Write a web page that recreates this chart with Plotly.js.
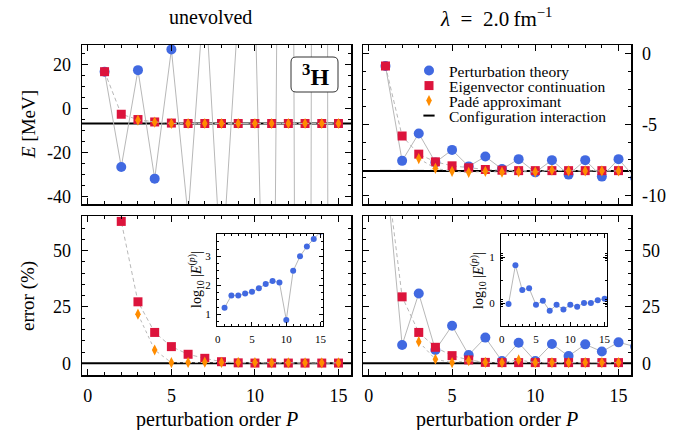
<!DOCTYPE html>
<html><head><meta charset="utf-8">
<script src="https://cdn.plot.ly/plotly-3.0.1.min.js"></script>
<style>html,body{margin:0;padding:0;background:#fff}#chart{width:678px;height:430px}</style>
</head><body><div id="chart"></div>
<script>
// ---------------- data ----------------
const orders = [1,2,3,4,5,6,7,8,9,10,11,12,13,14,15];
const ordersExt = [1,2,3,4,5,6,7,8,9,10,11,12,13,14,15,16];
const padeOrders = [3,4,5,6,7,8,9,10,11,12,13,14,15];

// energies (MeV), unevolved
const ptUnev = [16.7,-26.5,17.4,-31.8,26.8,-49,56,-76,44,50,-252,681,-1314,2234,-4076];
const ecUnev = [16.7,-2.6,-5.0,-6.1,-6.6,-6.8,-6.8,-6.8,-6.8,-6.8,-6.8,-6.8,-6.8,-6.8,-6.8];
const padeUnev = [-5.3,-6.2,-6.8,-6.8,-6.8,-6.8,-6.8,-6.8,-6.8,-6.8,-6.8,-6.8,-6.8];
const ciUnev = -6.8;

// energies (MeV), lambda = 2.0 fm^-1
const ptEvol = [-0.88,-7.56,-5.63,-7.67,-6.79,-7.95,-7.26,-8.14,-7.44,-8.37,-7.51,-8.53,-7.51,-8.67,-7.44,-8.77];
const ecEvol = [-0.88,-5.81,-7.09,-7.63,-7.91,-8.05,-8.17,-8.22,-8.25,-8.25,-8.25,-8.25,-8.25,-8.25,-8.25];
const padeEvol = [-7.40,-8.09,-8.30,-8.37,-8.30,-8.36,-8.32,-8.34,-8.22,-8.27,-8.27,-8.27,-8.27];
const ciEvol = -8.27;

// errors (%)
const ecErrUnev = [345,63.0,27.3,13.7,7.4,4.0,2.2,0.7,0.2,0.1,0.1,0.1,0.1,0.1,0.1];
const padeErrUnev = [21.8,5.9,0.3,0.4,0.5,0.4,0.4,0.3,0.2,0.2,0.2,0.2,0.2];
const ptErrEvol = [89,8.1,31.0,5.9,16.7,3.7,11.4,1.0,9.1,1.0,8.6,3.2,8.4,5.2,9.3,7.4];
const ecErrEvol = [89,29.5,13.7,7.1,3.4,1.5,0.4,0.3,0.3,0.3,0.3,0.3,0.3,0.3,0.3];
const padeErrEvol = [9.6,1.8,0.3,1.2,0.4,0.3,1.5,0.3,0.3,0.3,0.3,0.3,0.3];
const errRef = 0;

// insets: log10 |E^(p)|
const logUnev = [1.23,1.65,1.65,1.72,1.78,1.90,2.05,2.15,2.10,0.81,2.50,3.00,3.34,3.60,3.85];
const logEvol = [-0.02,0.82,0.28,0.32,-0.04,0.05,-0.17,-0.04,-0.14,-0.04,-0.08,0.00,0.00,0.06,0.09];

// tick labels
const xTicks = [0,5,10,15], xTickText = ['0','5','10','15'];
const yTLTicks = [-40,-20,0,20], yTLText = ['-40','-20','0','20'];
const yTRTicks = [-10,-5,0], yTRText = ['-10','-5','0'];
const yErrTicks = [0,25,50], yErrText = ['0','25','50'];
const yInL = [1,2,3], yInLText = ['1','2','3'];
const yInR = [0,1], yInRText = ['0','1'];
const yInRMinor = [-0.5,-0.08,-0.04,0.04,0.08,0.5,0.92,0.96,1.04,1.08,1.5];

// ---------------- styling ----------------
const FONT = '"Liberation Serif", "DejaVu Serif", serif';
const W = 678, H = 430;
const fx = v => v / W, fy = v => 1 - v / H;
const GREY = '#b8b8b8', BLUE = '#4169e1', RED = '#dc143c', ORANGE = '#ff8c00';

function ax(extra, small) {
  return Object.assign({
    showline: true, mirror: 'allticks', linecolor: '#000', linewidth: small ? 1 : 1.5,
    ticks: 'inside', ticklen: small ? 4 : 6, tickwidth: 1, tickcolor: '#000',
    showgrid: false, zeroline: false, ticklabelstandoff: small ? 3 : 6,
    tickfont: {family: FONT, size: small ? 11 : 18, color: '#000'}
  }, extra);
}
function minor(d, small) { return {ticks: 'inside', ticklen: small ? 2 : 3, dtick: d, tick0: 0, tickcolor: '#000', tickwidth: 1}; }

function leg(yPx) {
  return {x: fx(409), y: fy(yPx), xanchor: 'left', yanchor: 'middle', bgcolor: 'rgba(0,0,0,0)',
          font: {family: FONT, size: 15.5, color: '#000'}, tracegroupgap: 0};
}

const mainX = [-0.35, 15.75];
const layout = {
  width: W, height: H, margin: {l: 0, r: 0, t: 0, b: 0},
  paper_bgcolor: '#fff', plot_bgcolor: '#fff',
  font: {family: FONT, color: '#000'},
  showlegend: true,
  legend: leg(71), legend2: leg(86), legend3: leg(101), legend4: leg(116),
  xaxis: ax({domain: [fx(82), fx(351)], anchor: 'y', range: mainX, tickvals: xTicks, ticktext: xTickText, showticklabels: false, minor: minor(1)}),
  yaxis: ax({domain: [fy(204), fy(45)], anchor: 'x', range: [-43.3, 28.8], tickvals: yTLTicks, ticktext: yTLText, minor: minor(5)}),
  xaxis2: ax({domain: [fx(363), fx(631)], anchor: 'y2', range: mainX, tickvals: xTicks, ticktext: xTickText, showticklabels: false, minor: minor(1)}),
  yaxis2: ax({domain: [fy(204), fy(45)], anchor: 'x2', side: 'right', range: [-10.6, 0.6], tickvals: yTRTicks, ticktext: yTRText, minor: minor(1.25)}),
  xaxis3: ax({domain: [fx(82), fx(351)], anchor: 'y3', range: mainX, tickvals: xTicks, ticktext: xTickText, minor: minor(1), ticklabelstandoff: 4}),
  yaxis3: ax({domain: [fy(375), fy(216)], anchor: 'x3', range: [-5.2, 65.4], tickvals: yErrTicks, ticktext: yErrText, minor: minor(5)}),
  xaxis4: ax({domain: [fx(363), fx(631)], anchor: 'y4', range: mainX, tickvals: xTicks, ticktext: xTickText, minor: minor(1), ticklabelstandoff: 4}),
  yaxis4: ax({domain: [fy(375), fy(216)], anchor: 'x4', side: 'right', range: [-5.2, 65.4], tickvals: yErrTicks, ticktext: yErrText, minor: minor(5)}),
  xaxis5: ax({domain: [fx(217), fx(323)], anchor: 'y5', range: [-0.1, 15.35], tickvals: xTicks, ticktext: xTickText, minor: minor(1, true)}, true),
  yaxis5: ax({domain: [fy(326), fy(234)], anchor: 'x5', range: [0.6, 3.77], tickvals: yInL, ticktext: yInLText, minor: minor(0.25, true)}, true),
  xaxis6: ax({domain: [fx(501), fx(607)], anchor: 'y6', range: [-0.1, 15.35], tickvals: xTicks, ticktext: xTickText, minor: minor(1, true)}, true),
  yaxis6: ax({domain: [fy(326), fy(234)], anchor: 'x6', range: [-0.5, 1.5], tickvals: yInR, ticktext: yInRText,
              minor: {ticks: 'inside', ticklen: 2, tickvals: yInRMinor, tickcolor: '#000', tickwidth: 1}}, true),
  shapes: [], annotations: []
};

function ciLine(xa, ya, val) {
  return {type: 'line', xref: xa + ' domain', x0: 0, x1: 1, yref: ya, y0: val, y1: val, line: {color: '#000', width: 2}, layer: 'below'};
}
layout.shapes.push(ciLine('x', 'y', ciUnev), ciLine('x2', 'y2', ciEvol), ciLine('x3', 'y3', errRef), ciLine('x4', 'y4', errRef));

function roundRect(x0, y0, x1, y1, r) {
  const X = fx, Y = fy;
  return `M${X(x0+r)},${Y(y0)} L${X(x1-r)},${Y(y0)} Q${X(x1)},${Y(y0)} ${X(x1)},${Y(y0+r)} L${X(x1)},${Y(y1-r)} Q${X(x1)},${Y(y1)} ${X(x1-r)},${Y(y1)} L${X(x0+r)},${Y(y1)} Q${X(x0)},${Y(y1)} ${X(x0)},${Y(y1-r)} L${X(x0)},${Y(y0+r)} Q${X(x0)},${Y(y0)} ${X(x0+r)},${Y(y0)} Z`;
}
layout.shapes.push({type: 'path', xref: 'paper', yref: 'paper', path: roundRect(291, 57, 338, 92, 5), line: {color: '#333', width: 1}, fillcolor: '#fff'});

function ann(text, x, y, size, angle) {
  return {text, x: fx(x), y: fy(y), xref: 'paper', yref: 'paper', showarrow: false, xanchor: 'center', yanchor: 'middle',
          textangle: angle || 0, font: {family: FONT, size, color: '#000'}};
}
layout.annotations.push(
  ann('unevolved', 210, 17, 20),
  ann('<i>λ</i>\u2002=\u20022.0\u2009fm<sup>−1</sup>', 496, 17, 21),
  ann('perturbation order <i>P</i>', 217, 419, 20),
  ann('perturbation order <i>P</i>', 497, 419, 20),
  ann('<i>E</i> [MeV]', 28, 125, 19, -90),
  ann('error (%)', 28, 296, 19, -90),
  ann('<b><sup>3</sup>H</b>', 315, 75, 24),
  ann('log<sub>10</sub> |<i>E</i><sup>(<i>p</i>)</sup>|', 196, 280, 14, -90),
  ann('log<sub>10</sub> |<i>E</i><sup>(<i>p</i>)</sup>|', 478, 280, 14, -90)
);

// ---------------- traces ----------------
const traces = [];
function line(x, y, xa, ya, dash) {
  traces.push({x, y, xaxis: xa, yaxis: ya, mode: 'lines', line: {color: GREY, width: 1, dash}, showlegend: false, hoverinfo: 'skip'});
}
function marks(x, y, xa, ya, marker, name, legendId) {
  const t = {x, y, xaxis: xa, yaxis: ya, mode: 'markers', marker, name, showlegend: !!legendId, cliponaxis: true};
  if (legendId) t.legend = legendId;
  traces.push(t);
}
const mPT = {symbol: 'circle', size: 10, color: BLUE};
const mEC = {symbol: 'square', size: 9, color: RED};
const mPD = {symbol: 'diamond-tall', size: 8, color: ORANGE};
const mIn = {symbol: 'circle', size: 6, color: BLUE};

// CI legend entry (short dash markers lying on the CI line)
marks(orders, orders.map(() => ciEvol), 'x2', 'y2', {symbol: 'line-ew', size: 8, line: {width: 2, color: '#000'}}, 'Configuration interaction', 'legend4');

// top-left
line(orders, ptUnev, 'x', 'y', 'solid');
marks(orders, ptUnev, 'x', 'y', mPT, 'Perturbation theory');
line(orders, ecUnev, 'x', 'y', '4px,3px');
marks(orders, ecUnev, 'x', 'y', mEC, 'Eigenvector continuation');
line(padeOrders, padeUnev, 'x', 'y', 'dot');
marks(padeOrders, padeUnev, 'x', 'y', mPD, 'Padé approximant');

// top-right
line(ordersExt, ptEvol, 'x2', 'y2', 'solid');
marks(ordersExt, ptEvol, 'x2', 'y2', mPT, 'Perturbation theory', 'legend');
line(orders, ecEvol, 'x2', 'y2', '4px,3px');
marks(orders, ecEvol, 'x2', 'y2', mEC, 'Eigenvector continuation', 'legend2');
line(padeOrders, padeEvol, 'x2', 'y2', 'dot');
marks(padeOrders, padeEvol, 'x2', 'y2', mPD, 'Padé approximant', 'legend3');

// bottom-left
line(orders, ecErrUnev, 'x3', 'y3', '4px,3px');
marks(orders, ecErrUnev, 'x3', 'y3', mEC, 'Eigenvector continuation');
line(padeOrders, padeErrUnev, 'x3', 'y3', 'dot');
marks(padeOrders, padeErrUnev, 'x3', 'y3', mPD, 'Padé approximant');

// bottom-right
line(ordersExt, ptErrEvol, 'x4', 'y4', 'solid');
marks(ordersExt, ptErrEvol, 'x4', 'y4', mPT, 'Perturbation theory');
line(orders, ecErrEvol, 'x4', 'y4', '4px,3px');
marks(orders, ecErrEvol, 'x4', 'y4', mEC, 'Eigenvector continuation');
line(padeOrders, padeErrEvol, 'x4', 'y4', 'dot');
marks(padeOrders, padeErrEvol, 'x4', 'y4', mPD, 'Padé approximant');

// insets
line(orders, logUnev, 'x5', 'y5', 'solid');
marks(orders, logUnev, 'x5', 'y5', mIn, 'inset');
line(orders, logEvol, 'x6', 'y6', 'solid');
marks(orders, logEvol, 'x6', 'y6', mIn, 'inset');

Plotly.newPlot('chart', traces, layout, {staticPlot: true, displayModeBar: false});
</script></body></html>
